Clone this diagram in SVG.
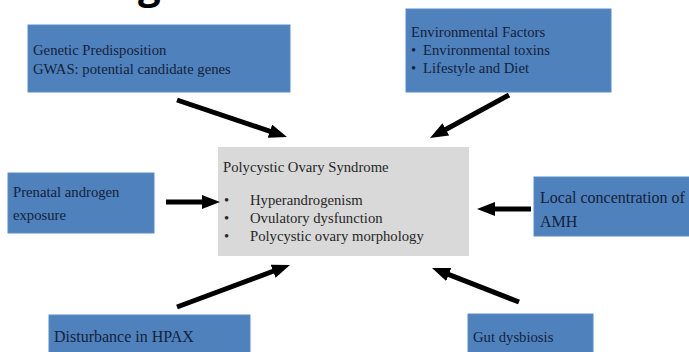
<svg xmlns="http://www.w3.org/2000/svg" width="689" height="352" viewBox="0 0 689 352">
<style>
.box{fill:#4f81bd;stroke:#5b8cc6;stroke-width:1}
.center{fill:#d9d9d9}
.t{font-family:"Liberation Serif","Times New Roman",serif;font-size:14.7px;fill:#14213a}
.big{font-size:16px}
.ct{font-family:"Liberation Serif","Times New Roman",serif;font-size:14.7px;fill:#262626}
.arr{stroke:#000;stroke-width:5;fill:none;marker-end:url(#ah)}
.hd{font-family:"Open Sans","DejaVu Sans",sans-serif;font-weight:bold;font-size:40px;fill:#000}
</style>
<defs>
<marker id="ah" viewBox="0 0 18 14" markerWidth="18" markerHeight="14" markerUnits="userSpaceOnUse" refX="8" refY="7" orient="auto">
<path d="M0,0 L18,7 L0,14 z" fill="#000"/>
</marker>
</defs>
<rect width="689" height="352" fill="#fff"/>
<text class="hd" x="138" y="-1">g</text>
<g id="genetic">
<rect class="box" x="28" y="25" width="262" height="67"/>
<text class="t" x="33" y="55">Genetic Predisposition</text>
<text class="t" x="33" y="74">GWAS: potential candidate genes</text>
</g>
<g id="environmental">
<rect class="box" x="406" y="9" width="205" height="83"/>
<text class="t" x="411" y="37">Environmental Factors</text>
<text class="t" x="411" y="55">•</text>
<text class="t" x="423" y="55">Environmental toxins</text>
<text class="t" x="411" y="73">•</text>
<text class="t" x="423" y="73">Lifestyle and Diet</text>
</g>
<g id="prenatal">
<rect class="box" x="8" y="173" width="146" height="60"/>
<text class="t" x="13" y="197">Prenatal androgen</text>
<text class="t" x="13" y="220">exposure</text>
</g>
<g id="pcos">
<rect class="center" x="218" y="147" width="251" height="109"/>
<text class="ct" x="223" y="172">Polycystic Ovary Syndrome</text>
<text class="ct" x="224" y="205">•</text>
<text class="ct" x="250" y="205">Hyperandrogenism</text>
<text class="ct" x="224" y="223">•</text>
<text class="ct" x="250" y="223">Ovulatory dysfunction</text>
<text class="ct" x="224" y="241">•</text>
<text class="ct" x="250" y="241">Polycystic ovary morphology</text>
</g>
<g id="amh">
<rect class="box" x="534" y="177" width="160" height="59"/>
<text class="t big" x="540" y="203">Local concentration of</text>
<text class="t big" x="540" y="227">AMH</text>
</g>
<g id="hpax">
<rect class="box" x="49" y="315" width="201" height="45"/>
<text class="t big" x="54" y="342">Disturbance in HPAX</text>
</g>
<g id="gut">
<rect class="box" x="468" y="314" width="125" height="46"/>
<text class="t" x="473" y="342">Gut dysbiosis</text>
</g>
<g id="connectors">
<line class="arr" x1="177" y1="100" x2="277.5" y2="133.8"/>
<line class="arr" x1="509" y1="95" x2="438.8" y2="133.2"/>
<line class="arr" x1="166" y1="202" x2="210" y2="202"/>
<line class="arr" x1="531" y1="209" x2="487" y2="209"/>
<line class="arr" x1="177" y1="307" x2="280.6" y2="268.5"/>
<line class="arr" x1="519" y1="302" x2="441.3" y2="271.6"/>
</g>
</svg>
